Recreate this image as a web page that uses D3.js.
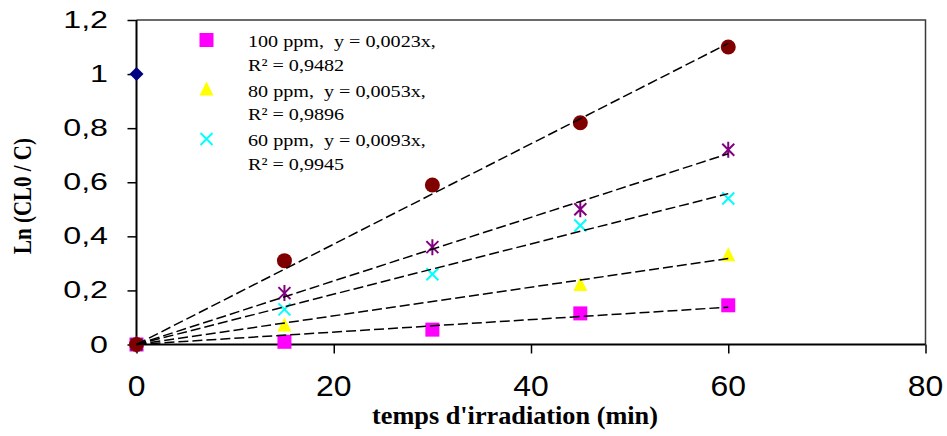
<!DOCTYPE html>
<html>
<head>
<meta charset="utf-8">
<script src="https://cdn.jsdelivr.net/npm/d3@7"></script>
<style>
  html, body { margin: 0; padding: 0; background: #fff; }
  svg { display: block; }
</style>
</head>
<body>
<svg id="chart" width="947" height="436"></svg>
<script>
// Irradiation times (min) and ln(C0/C) for each series
const times = [0, 15, 30, 45, 60];
const ppm100 = [0, 0.01, 0.055, 0.115, 0.145];
const ppm80 = [0, 0.07, null, 0.22, 0.33];
const ppm60 = [0, 0.13, 0.26, 0.44, 0.54];
const seriesPurple = [0, 0.19, 0.36, 0.50, 0.72];
const seriesBrown = [0, 0.31, 0.59, 0.82, 1.10];
const diamondPoint = [[0, 1]];

// Fitted slopes of the linear trendlines through the origin (y = a x)
const slope100 = 0.0023, slope80 = 0.0053, slope60 = 0.0093;

const legendLines = [
  ["100 ppm,  y = 0,0023x,", "R\u00b2 = 0,9482"],
  ["80 ppm,  y = 0,0053x,", "R\u00b2 = 0,9896"],
  ["60 ppm,  y = 0,0093x,", "R\u00b2 = 0,9945"]
];
const xTicks = [0, 20, 40, 60, 80];
const yTicks = [0, 0.2, 0.4, 0.6, 0.8, 1, 1.2];

const svg = d3.select("#chart");
const L = 136.5, R = 925.5, T = 20, B = 344.5;
const x = d3.scaleLinear().domain([0, 80]).range([L, R]);
const y = d3.scaleLinear().domain([0, 1.2]).range([B, T]);
const fmt = d => String(d).replace(".", ",");

// least-squares slope through the origin for the unlabelled series
function fitSlope(vals) {
  let sxy = 0, sxx = 0;
  vals.forEach((v, i) => { if (v != null) { sxy += times[i] * v; sxx += times[i] * times[i]; } });
  return sxy / sxx;
}

// frame: top and right border
svg.append("path")
  .attr("d", `M${L},${T}H${R}V${B}`)
  .attr("fill", "none").attr("stroke", "#3a3a3a").attr("stroke-width", 1.5);

// y axis
const yAxis = svg.append("g").attr("transform", `translate(${L},0)`)
  .call(d3.axisLeft(y).tickValues(yTicks).tickSize(9).tickFormat(() => ""));
yAxis.select(".domain").attr("stroke", "#000").attr("stroke-width", 2).attr("d", `M0,${T}V${B}`);
yAxis.selectAll(".tick line").attr("stroke", "#000").attr("stroke-width", 1.5);
yTicks.forEach(t => {
  svg.append("text")
    .attr("transform", `translate(108,${y(t) + 8}) scale(1.4,1)`)
    .attr("text-anchor", "end")
    .attr("font-family", "Liberation Sans, Arial, sans-serif")
    .attr("font-size", 23).attr("fill", "#000")
    .text(fmt(t));
});

// x axis
const xAxis = svg.append("g").attr("transform", `translate(0,${B})`)
  .call(d3.axisBottom(x).tickValues(xTicks).tickSize(9).tickFormat(() => ""));
xAxis.select(".domain").attr("stroke", "#000").attr("stroke-width", 2).attr("d", `M${L},0H${R}`);
xAxis.selectAll(".tick line").attr("stroke", "#000").attr("stroke-width", 1.5);
xTicks.forEach(t => {
  svg.append("text")
    .attr("transform", `translate(${x(t)},396) scale(1.1,1)`)
    .attr("text-anchor", "middle")
    .attr("font-family", "Liberation Sans, Arial, sans-serif")
    .attr("font-size", 29).attr("fill", "#000")
    .text(t);
});

// axis titles
svg.append("text")
  .attr("transform", `translate(515,424) scale(1.05,1)`)
  .attr("text-anchor", "middle")
  .attr("font-family", "Liberation Serif, Times New Roman, serif")
  .attr("font-weight", "bold").attr("font-size", 25)
  .text("temps d'irradiation (min)");
svg.append("text")
  .attr("transform", `translate(31,196) rotate(-90) scale(1,1.15)`)
  .attr("text-anchor", "middle")
  .attr("font-family", "Liberation Serif, Times New Roman, serif")
  .attr("font-weight", "bold").attr("font-size", 21)
  .text("Ln (CL0 / C)");

// marker drawers
const markers = {
  square: (g, cx, cy) => g.append("rect").attr("x", cx - 7).attr("y", cy - 7)
    .attr("width", 14).attr("height", 14).attr("fill", "#FF00FF"),
  triangle: (g, cx, cy) => g.append("path")
    .attr("d", `M${cx},${cy - 8}L${cx + 7},${cy + 6}L${cx - 7},${cy + 6}Z`).attr("fill", "#FFFF00"),
  cross: (g, cx, cy) => g.append("path")
    .attr("d", `M${cx - 6},${cy - 6}L${cx + 6},${cy + 6}M${cx + 6},${cy - 6}L${cx - 6},${cy + 6}`)
    .attr("stroke", "#00FFFF").attr("stroke-width", 2).attr("fill", "none"),
  star: (g, cx, cy) => g.append("path")
    .attr("d", `M${cx - 6},${cy - 6}L${cx + 6},${cy + 6}M${cx + 6},${cy - 6}L${cx - 6},${cy + 6}M${cx},${cy - 8}V${cy + 8}`)
    .attr("stroke", "#800080").attr("stroke-width", 2).attr("fill", "none"),
  circle: (g, cx, cy) => g.append("circle").attr("cx", cx).attr("cy", cy).attr("r", 7.5)
    .attr("fill", "#800000"),
  diamond: (g, cx, cy) => g.append("path")
    .attr("d", `M${cx},${cy - 7}L${cx + 7},${cy}L${cx},${cy + 7}L${cx - 7},${cy}Z`).attr("fill", "#000080")
};

const series = [
  { vals: ppm80, marker: "triangle", slope: slope80 },
  { vals: ppm100, marker: "square", slope: slope100 },
  { vals: ppm60, marker: "cross", slope: slope60 },
  { vals: seriesPurple, marker: "star", slope: fitSlope(seriesPurple) },
  { vals: seriesBrown, marker: "circle", slope: fitSlope(seriesBrown) }
];

const pts = svg.append("g");
series.forEach(s => {
  s.vals.forEach((v, i) => {
    if (v == null) return;
    markers[s.marker](pts, x(times[i]), y(v));
  });
});
diamondPoint.forEach(([a, b]) => markers.diamond(pts, x(a), y(b)));

// dashed trendlines drawn over the markers
const line = d3.line().x(d => x(d[0])).y(d => y(d[1]));
series.forEach(s => {
  svg.append("path")
    .attr("d", line([[0, 0], [60, s.slope * 60]]))
    .attr("fill", "none").attr("stroke", "#000")
    .attr("stroke-width", 1.5).attr("stroke-dasharray", "10,4");
});

// legend
const legendMarkers = ["square", "triangle", "cross"];
const lg = svg.append("g");
legendLines.forEach((lines, i) => {
  const top = 40 + i * 49.5;
  markers[legendMarkers[i]](lg, 206.5, top);
  lines.forEach((txt, j) => {
    lg.append("text")
      .attr("transform", `translate(248,${top + 7 + j * 23.5}) scale(1.15,1)`)
      .attr("font-family", "Liberation Serif, Times New Roman, serif")
      .attr("font-size", 17.5).attr("fill", "#000")
      .attr("xml:space", "preserve").style("white-space", "pre")
      .text(txt);
  });
});
</script>
</body>
</html>
